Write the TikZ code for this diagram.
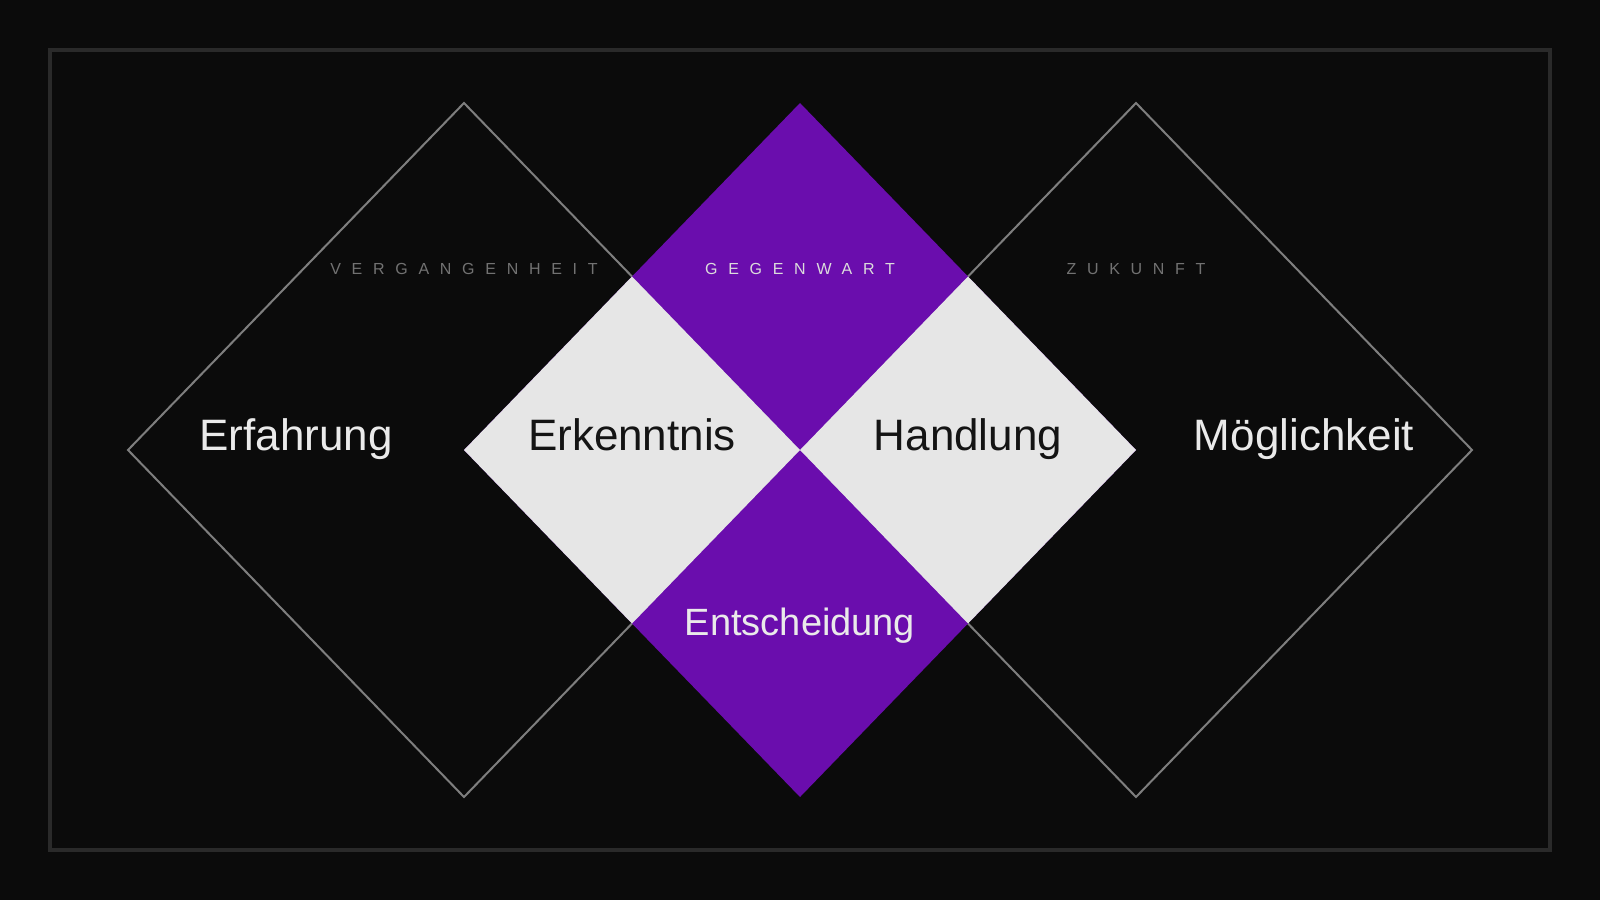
\documentclass[tikz,border=0pt]{standalone}
\usepackage{fontspec}
\setmainfont{Liberation Sans}
\newfontfamily\trackfont[LetterSpace=67]{Liberation Sans}
\definecolor{bgdark}{HTML}{0B0B0B}
\definecolor{framegray}{HTML}{2A2A2A}
\definecolor{edgegray}{HTML}{7E7E7E}
\definecolor{nowpurple}{HTML}{6A0DAD}
\definecolor{overlap}{HTML}{E6E6E6}
\definecolor{inkdark}{HTML}{141414}
\definecolor{inklight}{HTML}{EAEAEA}
\definecolor{nowink}{HTML}{DCDCDC}
\definecolor{tracegray}{HTML}{727272}
\tikzset{
  bigword/.style={anchor=base, font=\fontsize{44}{44}\selectfont},
  timeword/.style={anchor=base, font=\trackfont\fontsize{16}{16}\selectfont},
}
\begin{document}
\begin{tikzpicture}[x=1pt, y=-1pt]
\useasboundingbox (0, 0) rectangle (1600, 900);
\fill[bgdark] (0, 0) rectangle (1600, 900); % background
\draw[framegray, line width=4pt] (50, 50) rectangle (1550, 850); % frame
\draw[edgegray, line width=2pt] (464, 103) -- (800, 450) -- (464, 797) -- (128, 450) -- cycle; % past
\draw[edgegray, line width=2pt] (1136, 103) -- (1472, 450) -- (1136, 797) -- (800, 450) -- cycle; % future
\fill[nowpurple] (800, 103) -- (1136, 450) -- (800, 797) -- (464, 450) -- cycle; % present
\fill[overlap] (632, 276.5) -- (800, 450) -- (632, 623.5) -- (464, 450) -- cycle; % past x present
\fill[overlap] (968, 276.5) -- (1136, 450) -- (968, 623.5) -- (800, 450) -- cycle; % present x future
\node[timeword, text=tracegray] (past) at (464, 274) {VERGANGENHEIT};
\node[timeword, text=nowink] (now) at (800, 274) {GEGENWART};
\node[timeword, text=tracegray] (future) at (1136, 274) {ZUKUNFT};
\node[bigword, text=inklight] (experience) at (296, 450) {Erfahrung};
\node[bigword, text=inkdark] (insight) at (632, 450) {Erkenntnis};
\node[bigword, text=inkdark] (action) at (968, 450) {Handlung};
\node[bigword, text=inklight] (possibility) at (1304, 450) {Möglichkeit};
\node[anchor=base, font=\fontsize{38}{38}\selectfont, text=inklight] (decision) at (800, 635) {Entscheidung};
\end{tikzpicture}
\end{document}
